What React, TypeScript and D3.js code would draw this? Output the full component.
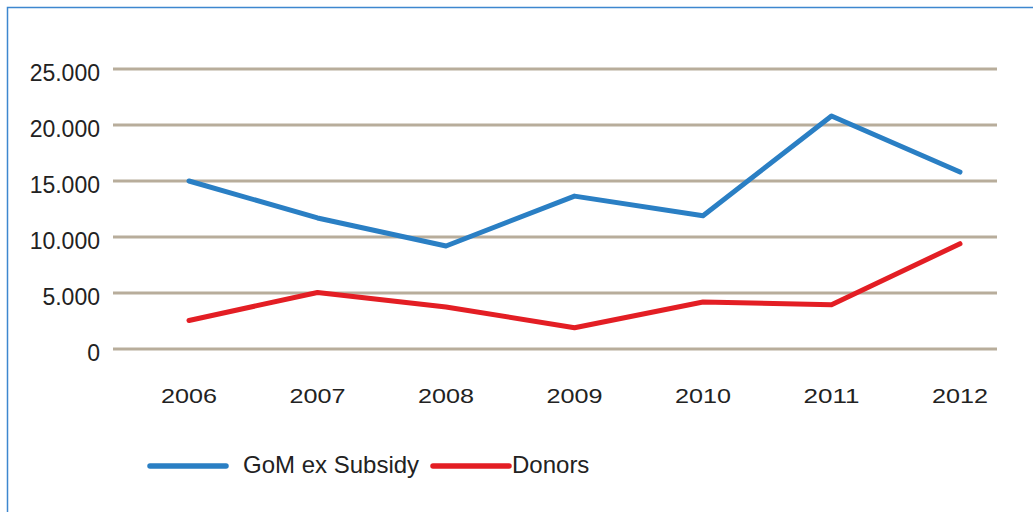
import React from "react";
import * as d3 from "d3";

const years = ["2006", "2007", "2008", "2009", "2010", "2011", "2012"];
const gomValues = [15000, 11700, 9200, 13650, 11900, 20800, 15800];
const donorValues = [2550, 5050, 3750, 1900, 4200, 3950, 9400];
const yTicks = [0, 5000, 10000, 15000, 20000, 25000];
const seriesNames = ["GoM ex Subsidy", "Donors"];

const W = 1033;
const H = 512;
const BLUE = "#2a7fc4";
const RED = "#e31e24";
const GRID = "#b8ad9b";
const FONT = "'Liberation Sans', Arial, sans-serif";

export default function App() {
  const x = d3.scalePoint<string>().domain(years).range([189, 960]);
  const y = d3.scaleLinear().domain([0, 25000]).range([349, 69]);
  const line = d3
    .line<number>()
    .x((_, i) => x(years[i]) as number)
    .y((d) => y(d));
  const fmt = (v: number) => d3.format(",")(v).replace(/,/g, ".");

  return (
    <svg
      width={W}
      height={H}
      style={{ position: "absolute", left: 0, top: 0, background: "#fff" }}
      fontFamily={FONT}
    >
      <rect x={0} y={0} width={W} height={H} fill="#fff" />
      <path d={`M7.5,${H} V7.5 H${W}`} fill="none" stroke="#3d87cf" strokeWidth={1.5} />
      {yTicks.map((t) => (
        <g key={t}>
          <line x1={113} x2={997} y1={y(t)} y2={y(t)} stroke={GRID} strokeWidth={3} />
          <text x={100} y={y(t) + 12} textAnchor="end" fontSize={23} fill="#222">
            {fmt(t)}
          </text>
        </g>
      ))}
      {years.map((yr) => (
        <text
          key={yr}
          x={(x(yr) as number) - 28}
          y={403}
          fontSize={21}
          fill="#222"
          textLength={56}
          lengthAdjust="spacingAndGlyphs"
        >
          {yr}
        </text>
      ))}
      <path d={line(gomValues) || ""} fill="none" stroke={BLUE} strokeWidth={5} strokeLinecap="round" strokeLinejoin="round" />
      <path d={line(donorValues) || ""} fill="none" stroke={RED} strokeWidth={5} strokeLinecap="round" strokeLinejoin="round" />
      <line x1={150} x2={226} y1={466} y2={466} stroke={BLUE} strokeWidth={5.5} strokeLinecap="round" />
      <text x={243} y={473} fontSize={24} fill="#222">{seriesNames[0]}</text>
      <line x1={433} x2={509} y1={466} y2={466} stroke={RED} strokeWidth={5.5} strokeLinecap="round" />
      <text x={512} y={473} fontSize={24} fill="#222">{seriesNames[1]}</text>
    </svg>
  );
}
